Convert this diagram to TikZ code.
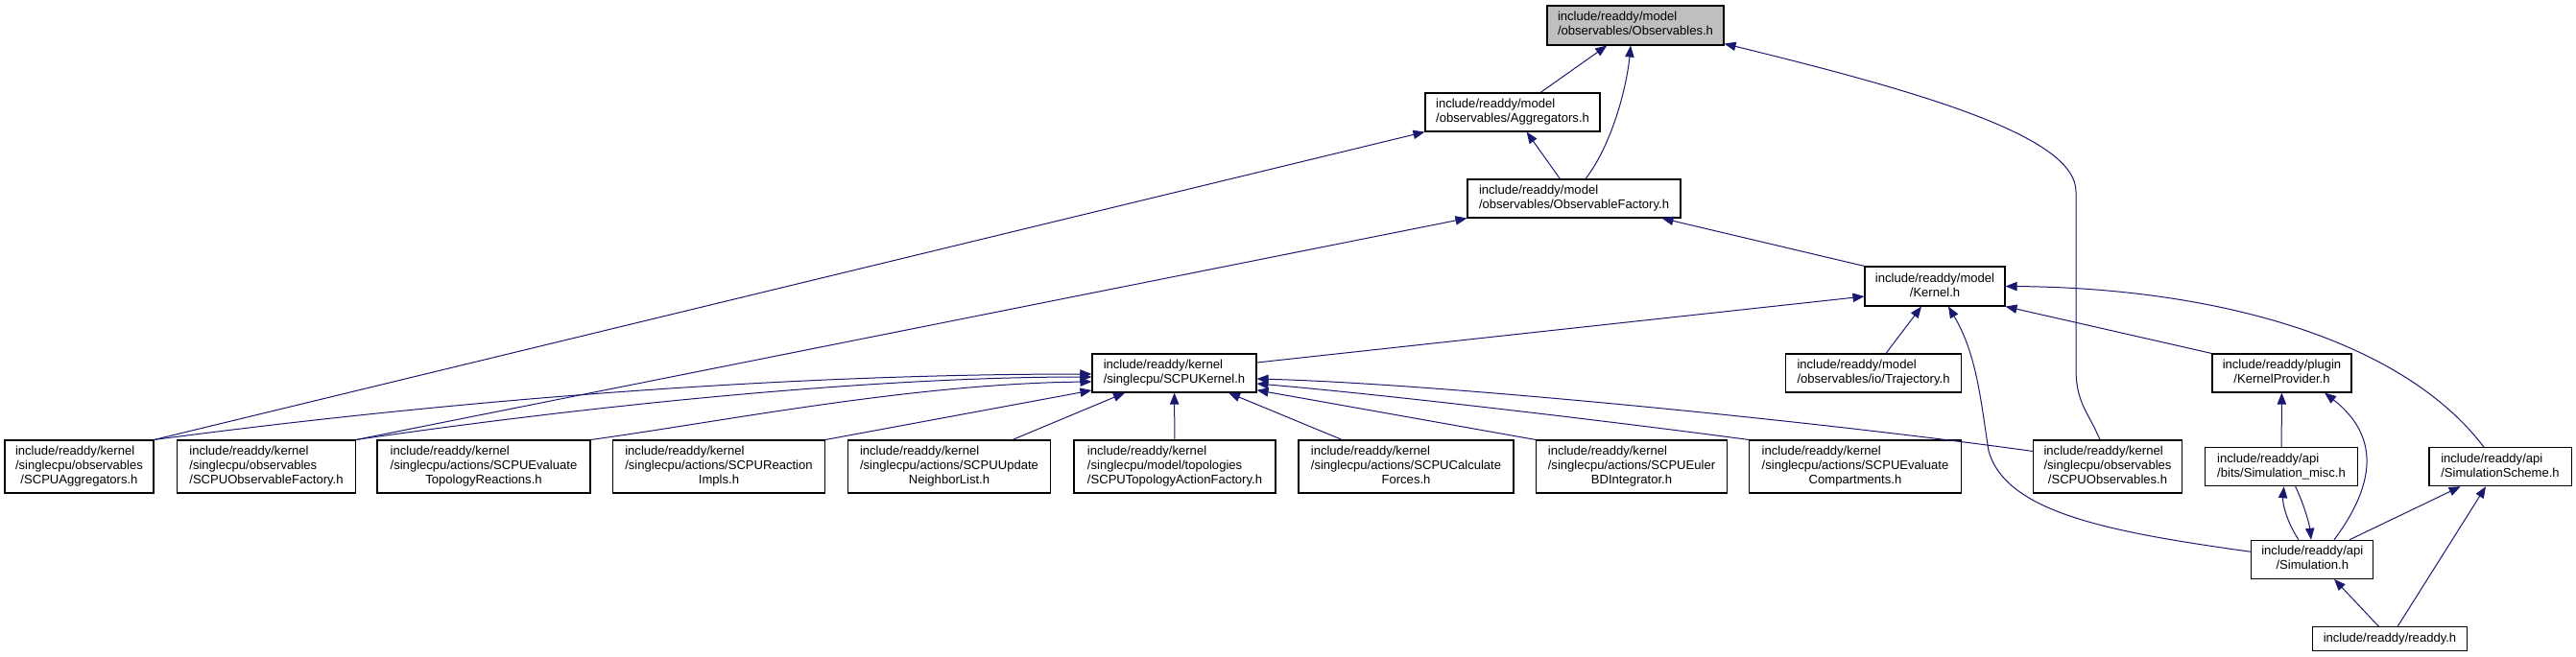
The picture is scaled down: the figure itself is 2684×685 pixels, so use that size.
\documentclass[tikz,border=0pt]{standalone}
\usepackage{fontspec}
\setmainfont{Liberation Sans}
\usetikzlibrary{arrows.meta}
\definecolor{edgeNavy}{HTML}{191970}
\definecolor{rootGray}{HTML}{BFBFBF}
% left-aligned lines, last line centred (doxygen label style)
\newcommand{\flines}[2]{\begin{tabular}{@{}l@{}}#1\\\multicolumn{1}{@{}c@{}}{#2}\end{tabular}}
\tikzset{
  arrowN/.style={-{Triangle[length=9pt, width=7pt]}, color=edgeNavy, line width=0.75pt},
  boxF/.style={rectangle, draw=black, line width=0.8pt, fill=white, inner sep=0pt,
               font=\fontsize{9.8}{11.25}\selectfont, minimum height=30pt},
  boxRoot/.style={boxF, fill=rootGray},
  tall/.style={minimum height=41.25pt},
}
\begin{document}
\begin{tikzpicture}[x=0.75pt, y=-0.75pt]
  \useasboundingbox (0,0) rectangle (2684,685);
  % model headers
  \node[boxRoot, minimum width=138pt, minimum height=30.75pt] (obs) at (1704,26.5)
        {\flines{include/readdy/model}{/observables/Observables.h}};
  \node[boxF, minimum width=136.5pt] (aggr) at (1576,117)
        {\flines{include/readdy/model}{/observables/Aggregators.h}};
  \node[boxF, minimum width=166.5pt] (obsfac) at (1640,207)
        {\flines{include/readdy/model}{/observables/ObservableFactory.h}};
  \node[boxF, minimum width=109.5pt, minimum height=30.75pt] (kernel) at (2016,298.5)
        {\flines{include/readdy/model}{/Kernel.h}};
  \node[boxF, minimum width=128.25pt] (scpukernel) at (1223.5,389)
        {\flines{include/readdy/kernel}{/singlecpu/SCPUKernel.h}};
  \node[boxF, minimum width=137.25pt] (traj) at (1952,389)
        {\flines{include/readdy/model}{/observables/io/Trajectory.h}};
  \node[boxF, minimum width=108.75pt] (kprov) at (2377.5,389)
        {\flines{include/readdy/plugin}{/KernelProvider.h}};
  % singlecpu row
  \node[boxF, tall, minimum width=116.25pt] (scpuaggr) at (82.5,486.5)
        {\flines{include/readdy/kernel\\/singlecpu/observables}{/SCPUAggregators.h}};
  \node[boxF, tall, minimum width=139.5pt] (scpuobsfac) at (277.5,486.5)
        {\flines{include/readdy/kernel\\/singlecpu/observables}{/SCPUObservableFactory.h}};
  \node[boxF, tall, minimum width=166.5pt] (evaltopo) at (504,486.5)
        {\flines{include/readdy/kernel\\/singlecpu/actions/SCPUEvaluate}{TopologyReactions.h}};
  \node[boxF, tall, minimum width=165.75pt] (reacimpl) at (749,486.5)
        {\flines{include/readdy/kernel\\/singlecpu/actions/SCPUReaction}{Impls.h}};
  \node[boxF, tall, minimum width=158.25pt] (updnl) at (989,486.5)
        {\flines{include/readdy/kernel\\/singlecpu/actions/SCPUUpdate}{NeighborList.h}};
  \node[boxF, tall, minimum width=157.5pt] (topofac) at (1224,486.5)
        {\flines{include/readdy/kernel\\/singlecpu/model/topologies}{/SCPUTopologyActionFactory.h}};
  \node[boxF, tall, minimum width=168pt] (calcf) at (1465,486.5)
        {\flines{include/readdy/kernel\\/singlecpu/actions/SCPUCalculate}{Forces.h}};
  \node[boxF, tall, minimum width=149.25pt] (euler) at (1700,486.5)
        {\flines{include/readdy/kernel\\/singlecpu/actions/SCPUEuler}{BDIntegrator.h}};
  \node[boxF, tall, minimum width=165.75pt] (evalcomp) at (1933,486.5)
        {\flines{include/readdy/kernel\\/singlecpu/actions/SCPUEvaluate}{Compartments.h}};
  \node[boxF, tall, minimum width=115.9pt] (scpuobs) at (2196,486.5)
        {\flines{include/readdy/kernel\\/singlecpu/observables}{/SCPUObservables.h}};
  % api headers
  \node[boxF, minimum width=119.25pt] (simmisc) at (2377,486.7)
        {\flines{include/readdy/api}{/bits/Simulation\_misc.h}};
  \node[boxF, minimum width=111pt] (simscheme) at (2605,486.7)
        {\flines{include/readdy/api}{/SimulationScheme.h}};
  \node[boxF, minimum width=95.25pt] (sim) at (2409.3,583.3)
        {\flines{include/readdy/api}{/Simulation.h}};
  \node[boxF, minimum width=120.4pt, minimum height=18.75pt] (readdy) at (2490,666.4)
        {include/readdy/readdy.h};

  % edges to the model headers
  \draw[arrowN] (aggr) -- (obs); \draw[arrowN] (obsfac) -- (aggr);
  \draw[arrowN] ([xshift=9pt]obsfac.north) .. controls (1680,150) and (1695,90) .. ([xshift=-3.75pt]obs.south);
  \draw[arrowN] ([xshift=-6pt]scpuobs.north) .. controls (2176,430) and (2163,420) .. (2163,385)
        -- (2163,200) .. controls (2163,145) and (2020,100) .. ([yshift=1.5pt]obs.south east);
  \draw[arrowN] (scpuaggr.north east) -- (aggr.south west);
  \draw[arrowN] (scpuobsfac.north east) -- (obsfac.south west);
  \draw[arrowN] (kernel.north west) -- ([xshift=-15pt]obsfac.south east);
  \draw[arrowN] ([yshift=8.25pt]scpukernel.east) -- ([yshift=-7.9pt]kernel.west);
  \draw[arrowN] ([xshift=9.75pt]traj.north) -- ([xshift=-10.5pt]kernel.south);
  \draw[arrowN] ([yshift=6pt]sim.west) .. controls (2200,555) and (2090,535) .. (2072,470)
        .. controls (2064,420) and (2060,370) .. ([xshift=10.5pt]kernel.south);
  \draw[arrowN] (kprov.north west) -- (kernel.south east);
  \draw[arrowN] ([xshift=-12.75pt]simscheme.north) .. controls (2500,350) and (2300,300) .. (kernel.east);
  % fan-in to SCPUKernel.h
  \draw[arrowN] (scpuaggr.north east) .. controls (450,420) and (800,390) .. ([yshift=-0.75pt]scpukernel.west);
  \draw[arrowN] (scpuobsfac.north east) .. controls (600,425) and (900,393) .. ([yshift=-3pt]scpukernel.west);
  \draw[arrowN] (evaltopo.north east) .. controls (750,440) and (950,400) .. ([yshift=-6.75pt]scpukernel.west);
  \draw[arrowN] (reacimpl.north east) -- ([yshift=-13.5pt]scpukernel.west);
  \draw[arrowN] ([xshift=49.5pt]updnl.north) -- ([xshift=-38.6pt]scpukernel.south);
  \draw[arrowN] (topofac) -- (scpukernel);
  \draw[arrowN] ([xshift=-50pt]calcf.north) -- ([xshift=42.4pt]scpukernel.south);
  \draw[arrowN] (euler.north west) -- ([yshift=-13.3pt]scpukernel.east);
  \draw[arrowN] (evalcomp.north west) .. controls (1700,442) and (1450,412) .. ([yshift=-8.25pt]scpukernel.east);
  \draw[arrowN] ([yshift=12pt]scpuobs.west) .. controls (1900,440) and (1500,400) .. ([yshift=-4.5pt]scpukernel.east);
  % api edges
  \draw[arrowN] (simmisc) -- (kprov);
  \draw[arrowN] ([xshift=17pt]sim.north) .. controls (2475,505) and (2480,455) .. ([xshift=33.4pt]kprov.south);
  \draw[arrowN] ([xshift=-10.7pt]sim.north) .. controls (2383,545) and (2378,525) .. ([xshift=2pt]simmisc.south);
  \draw[arrowN] ([xshift=11pt]simmisc.south) .. controls (2400,525) and (2406,545) .. ([xshift=-1pt]sim.north);
  \draw[arrowN] ([xshift=29pt]sim.north) -- ([xshift=-31pt]simscheme.south);
  \draw[arrowN] ([xshift=-8.5pt]readdy.north) -- ([xshift=17pt]sim.south);
  \draw[arrowN] ([xshift=6pt]readdy.north) -- ([xshift=-11.25pt]simscheme.south);
\end{tikzpicture}
\end{document}
